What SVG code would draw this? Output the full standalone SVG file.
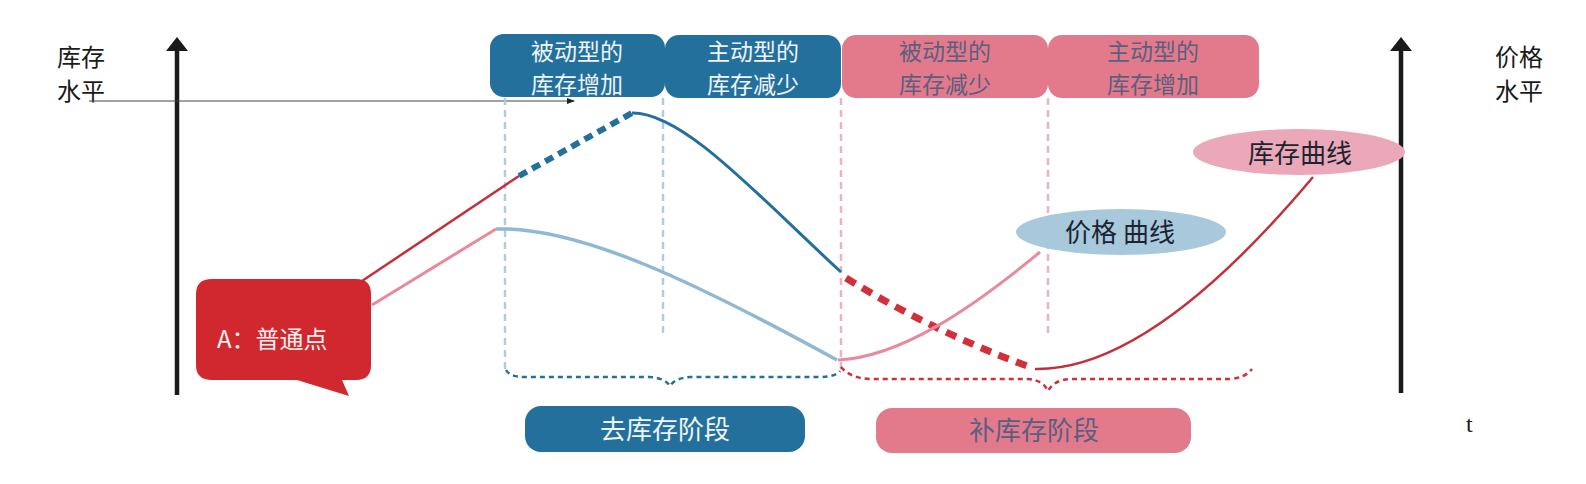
<svg xmlns="http://www.w3.org/2000/svg" width="1586" height="484" viewBox="0 0 1586 484">
<style>
text{font-family:"Noto Sans CJK SC","Liberation Sans",sans-serif;font-size:26px}
.two{font-size:23px}
.lbl{fill:#1a1a1a}
.wt{fill:#f0f4f8;text-anchor:middle}
.pt{fill:#5a5f80;text-anchor:middle}
.dk{fill:#1c2430;text-anchor:middle}
.axis{stroke:#1a1a1a;stroke-width:4.5;fill:none}
.vb{stroke:#b0cde0;stroke-width:2.5;stroke-dasharray:7 5;fill:none}
.vp{stroke:#e8b4c4;stroke-width:2.5;stroke-dasharray:7 5;fill:none}
.blue{fill:#23709c}
.pink{fill:#e27a8c}
</style>
<defs>
<marker id="sa" markerWidth="8" markerHeight="6" refX="7" refY="3" orient="auto" markerUnits="userSpaceOnUse">
<path d="M0,0 L8,3 L0,6 Z" fill="#222"/>
</marker>
</defs>

<g id="axes">
<line class="axis" x1="177" y1="395" x2="177" y2="48"/>
<polygon points="166,51 177,37 188,51" fill="#1a1a1a"/>
<line class="axis" x1="1401" y1="393" x2="1401" y2="48"/>
<polygon points="1390,51 1401,37 1412,51" fill="#1a1a1a"/>
<text class="lbl two" x="57" y="66" style="font-size:24px">库存</text>
<text class="lbl two" x="57" y="100" style="font-size:24px">水平</text>
<text class="lbl two" x="1495" y="66" style="font-size:24px">价格</text>
<text class="lbl two" x="1495" y="100" style="font-size:24px">水平</text>
<text x="1466" y="432" style="font-family:'Liberation Serif',serif;font-size:24px" fill="#1a1a1a">t</text>
</g>

<g id="connectors">
<line x1="89" y1="101" x2="574" y2="101" stroke="#444" stroke-width="1" marker-end="url(#sa)"/>
<line class="vb" x1="505" y1="98" x2="505" y2="370"/>
<line class="vb" x1="663" y1="98" x2="663" y2="335"/>
<line class="vp" x1="841" y1="98" x2="841" y2="372"/>
<line class="vp" x1="1048" y1="98" x2="1048" y2="335"/>
<path d="M362,281 L519,176" stroke="#c4303a" stroke-width="2.5" fill="none"/>
<path d="M519,176 L632,113" stroke="#23709c" stroke-width="6" stroke-dasharray="9 6" fill="none"/>
<path d="M632,113 C684,112 762,200 841,272" stroke="#23709c" stroke-width="3" fill="none"/>
<path d="M846,278 Q930,330 1027,366" stroke="#d0303a" stroke-width="7" stroke-dasharray="11 8" fill="none"/>
<path d="M1035,369 Q1150,371 1313,177" stroke="#c4303a" stroke-width="2.5" fill="none"/>
<path d="M372,305 L496,229" stroke="#e88a9c" stroke-width="3" fill="none"/>
<path d="M496,229 C580,226 700,285 837,360" stroke="#8fb8d4" stroke-width="3.5" fill="none"/>
<path d="M838,360 C900,357 970,310 1040,252" stroke="#e88a9c" stroke-width="3" fill="none"/>
<path d="M506,370 Q510,377 525,377 L650,377 Q665,378 670,386 Q675,378 690,377 L820,377 Q835,377 840,371" stroke="#23709c" stroke-width="2.5" stroke-dasharray="5 4" fill="none"/>
<path d="M841,367 Q850,378 870,379 L1028,379 Q1043,380 1048,391 Q1054,380 1070,379 L1230,379 Q1245,378 1252,369" stroke="#d0303a" stroke-width="2.5" stroke-dasharray="5 4" fill="none"/>
</g>

<g id="box-passive-increase">
<rect class="blue" x="490" y="34" width="175" height="63" rx="14"/>
<text class="wt two" x="577" y="60">被动型的</text>
<text class="wt two" x="577" y="93">库存增加</text>
</g>
<g id="box-active-decrease">
<rect class="blue" x="665" y="35" width="176" height="63" rx="14"/>
<text class="wt two" x="753" y="60">主动型的</text>
<text class="wt two" x="753" y="93">库存减少</text>
</g>
<g id="box-passive-decrease">
<rect class="pink" x="842" y="35" width="206" height="63" rx="14"/>
<text class="pt two" x="945" y="60">被动型的</text>
<text class="pt two" x="945" y="93">库存减少</text>
</g>
<g id="box-active-increase">
<rect class="pink" x="1048" y="35" width="211" height="63" rx="14"/>
<text class="pt two" x="1153" y="60">主动型的</text>
<text class="pt two" x="1153" y="93">库存增加</text>
</g>

<g id="inventory-label">
<ellipse cx="1299" cy="152" rx="106" ry="23" fill="#eaa8b8"/>
<text class="dk" x="1300" y="163">库存曲线</text>
</g>
<g id="price-label">
<ellipse cx="1121" cy="232" rx="105" ry="23" fill="#a8c8dc"/>
<text class="dk" x="1120" y="242">价格 曲线</text>
</g>

<g id="callout-a">
<path d="M212,279 L356,279 Q371,279 371,294 L371,365 Q371,380 356,380 L342,380 L349,396 L297,380 L212,380 Q196,380 196,365 L196,294 Q196,279 212,279 Z" fill="#d0282e"/>
<text x="217" y="348" fill="#f6f0f0" style="font-size:24px">A：普通点</text>
</g>

<g id="phase-destock">
<rect class="blue" x="525" y="406" width="280" height="46" rx="16"/>
<text class="wt" x="665" y="439">去库存阶段</text>
</g>
<g id="phase-restock">
<rect class="pink" x="876" y="408" width="315" height="45" rx="16"/>
<text class="pt" x="1034" y="440">补库存阶段</text>
</g>
</svg>
